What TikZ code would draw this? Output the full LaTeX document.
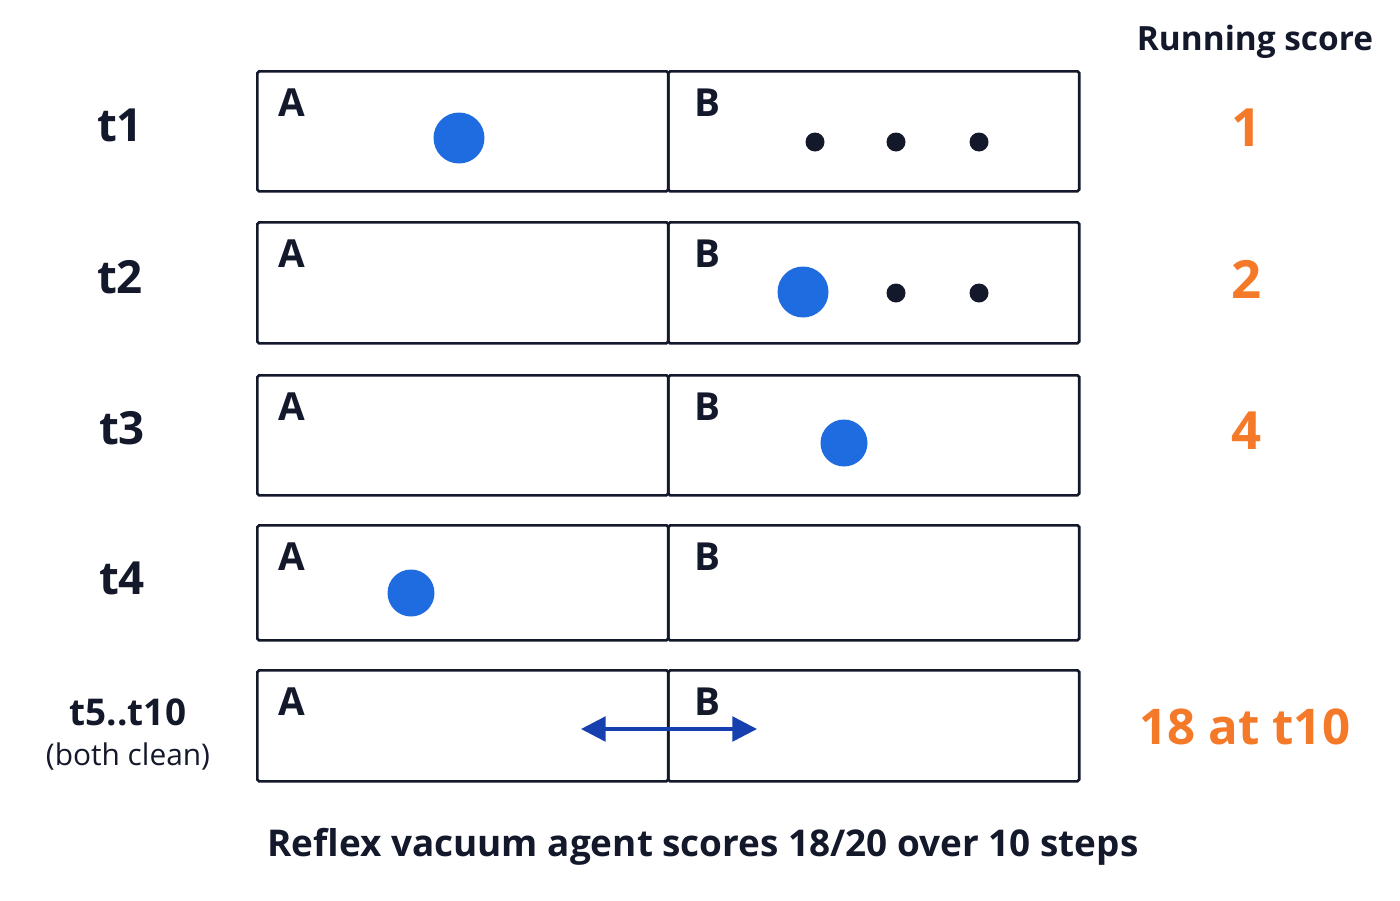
\documentclass[tikz,border=0pt]{standalone}
\usepackage{fontspec}
\setmainfont{Open Sans}
\usetikzlibrary{arrows.meta,positioning}
\definecolor{ink}{HTML}{14182B}
\definecolor{agent}{HTML}{1F6BE0}
\definecolor{score}{HTML}{F47A2A}
\definecolor{move}{HTML}{1640B0}
\tikzset{
	half/.style={draw=ink,line width=1.5pt,rounded corners=1pt,minimum width=8.22cm,anchor=north west,inner sep=0pt},
	room/.style={font=\bfseries\fontsize{22}{22}\selectfont,text=ink},
	tlabel/.style={font=\bfseries\fontsize{26}{26}\selectfont,text=ink},
	pts/.style={font=\bfseries\fontsize{30}{30}\selectfont,text=score},
	bot/.style={circle,fill=agent,inner sep=0pt,minimum size=1.02cm},
	dirt/.style={circle,fill=ink,inner sep=0pt,minimum size=0.38cm}
}
\begin{document}
\begin{tikzpicture}[x=0.02cm,y=-0.02cm]
	\useasboundingbox (0,0) rectangle (1400,900);
	%rows
	\foreach \r/\top/\h in {1/70/120,2/221/121,3/374/120,4/524/115,5/669/111}{
		\node[half,minimum height=\h*0.02cm] (a\r) at (256,\top) {};
		\node[half,minimum height=\h*0.02cm] (b\r) at (667,\top) {};
		\node[room] at (292,\top+33) {A};
		\node[room] at (707,\top+33) {B};
	}
	%step labels
	\node[tlabel] (s1) at (120,125) {t1};
	\node[tlabel] (s2) at (120,277) {t2};
	\node[tlabel] (s3) at (122,428) {t3};
	\node[tlabel] (s4) at (122,578) {t4};
	\node[font=\bfseries\fontsize{21}{21}\selectfont,text=ink] (s5) at (128,712) {t5..t10};
	\node[font=\fontsize{17}{17}\selectfont,text=ink,below=0.1cm of s5] {(both clean)};
	
	%agent and dirt
	\node[bot] (v1) at (459,138) {};
	\node[dirt] (d11) at (815,142) {};
	\node[dirt] (d12) at (896,142) {};
	\node[dirt] (d13) at (979,142) {};
	\node[bot] (v2) at (803,292) {};
	\node[dirt] (d22) at (896,293) {};
	\node[dirt] (d23) at (979,293) {};
	\node[bot,minimum size=0.94cm] (v3) at (844,443) {};
	\node[bot,minimum size=0.94cm] (v4) at (411,593) {};
	%back and forth
	\coordinate (left) at (581,729);
	\coordinate (right) at (757,729);
	\draw[{Triangle[length=14pt,width=14pt]}-{Triangle[length=14pt,width=14pt]},move,line width=2pt] (left) -- (right);
	
	%scores
	\node[font=\bfseries\fontsize{19}{19}\selectfont,text=ink] (head) at (1255,42) {Running score};
	\node[pts] (p1) at (1247,128) {1};
	\node[pts] (p2) at (1247,279) {2};
	\node[pts] (p3) at (1247,431) {4};
	\node[pts,font=\bfseries\fontsize{28}{28}\selectfont] (p5) at (1245,727) {18 at t10};
	
	\node[font=\bfseries\fontsize{21}{21}\selectfont,text=ink] (cap) at (703,847) {Reflex vacuum agent scores 18/20 over 10 steps};
\end{tikzpicture}
\end{document}
